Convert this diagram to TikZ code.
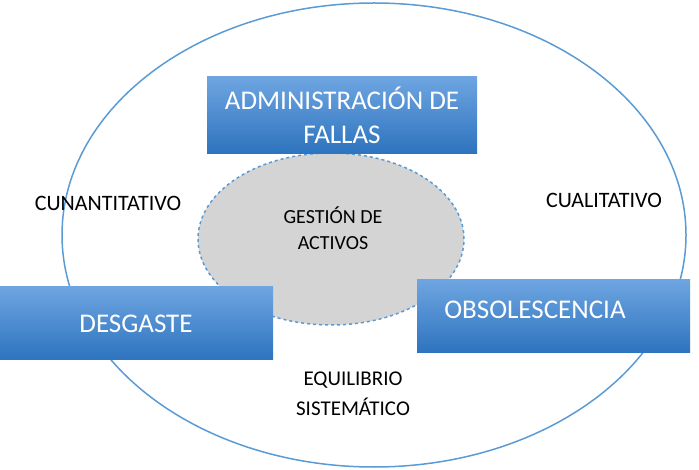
\documentclass[tikz,border=0pt]{standalone}
\usepackage{fontspec}
\setmainfont{Carlito}
\usetikzlibrary{shapes.geometric}
\begin{document}
\begin{tikzpicture}[x=1pt,y=-1pt,
  lbl/.style={font=\fontsize{22}{26}\selectfont,align=center},
  boxtxt/.style={text=white,font=\fontsize{27}{34}\selectfont,align=center},
  boxfill/.style={top color={rgb,255:red,110;green,165;blue,225},bottom color={rgb,255:red,45;green,115;blue,190}}]
\definecolor{ln}{RGB}{91,155,213}
\useasboundingbox (0,0) rectangle (699,470);
\draw[ln,line width=1.5pt] (374,235) ellipse [x radius=312,y radius=232];
\node[draw=ln,dashed,fill=black!17,line width=1.5pt,ellipse,minimum width=266,minimum height=172,inner sep=0] (g) at (331,239) {};
\node[lbl,font=\fontsize{20}{26}\selectfont] (gt) at (333,228) {GESTIÓN DE\\ACTIVOS};
\shade[boxfill] (207,77) rectangle (477,154);
\node[boxtxt] (a) at (342,115) {ADMINISTRACIÓN DE\\FALLAS};
\shade[boxfill] (0,287) rectangle (273,360);
\node[boxtxt] (d) at (136,324) {DESGASTE};
\shade[boxfill] (417,280) rectangle (690,353);
\node[boxtxt] (o) at (535,310) {OBSOLESCENCIA};
\node[lbl] (c1) at (108,203) {CUNANTITATIVO};
\node[lbl] (c2) at (604,200) {CUALITATIVO};
\node[lbl,font=\fontsize{21}{30}\selectfont] (e) at (353,394) {EQUILIBRIO\\SISTEMÁTICO};
\end{tikzpicture}
\end{document}
